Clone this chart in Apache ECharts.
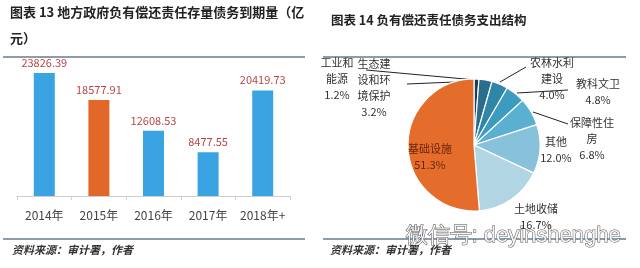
<!DOCTYPE html>
<html><head><meta charset="utf-8">
<script src="https://cdn.jsdelivr.net/npm/echarts@6/dist/echarts.min.js"></script>
<style>html,body{margin:0;padding:0;background:#fff}#c{width:640px;height:268px}</style>
</head><body><div id="c"></div>
<script>
var barCategories = ['2014年', '2015年', '2016年', '2017年', '2018年+'];
var barValues = [23826.39, 18577.91, 12608.53, 8477.55, 20419.73];
var pieNames = ['工业和\n能源', '生态建\n设和环\n境保护', '农林水利\n建设', '教科文卫', '保障性住\n房', '其他', '土地收储', '基础设施'];
var pieValues = [1.2, 3.2, 4.0, 4.8, 6.8, 12.0, 16.7, 51.3];

var barColors = ['#3aa4e2', '#e2682a', '#3aa4e2', '#3aa4e2', '#3aa4e2'];
var pieColors = ['#1d3f5c', '#2a6d8c', '#2f86a8', '#3c9cc0', '#5ab0d0', '#88c1da', '#b2d5e4', '#e56d2b'];
// label layout (text centre and leader line) per slice
var pieLabelPos = [
  {x: 337, y: 79, line: [[366, 70], [476, 80]]},
  {x: 374, y: 88, line: [[407, 84], [478, 81]]},
  {x: 552, y: 79, line: [[500, 82], [526, 67]]},
  {x: 598, y: 92, line: [[517, 93], [568, 90]]},
  {x: 592, y: 139, line: [[533, 112], [568, 124]]},
  {x: 556, y: 150, line: null},
  {x: 536, y: 217, line: null},
  {x: 430, y: 157, line: null}
];

var FONT = '"Noto Sans CJK SC", "Noto Sans", sans-serif';
var chart = echarts.init(document.getElementById('c'), null, {renderer: 'canvas'});

var pieData = pieValues.map(function (v, i) {
  return {
    name: pieNames[i], value: v,
    itemStyle: {color: pieColors[i]},
    label: {color: i === 7 ? '#6b2410' : '#333'}
  };
});

var option = {
  animation: false,
  textStyle: {fontFamily: FONT},
  grid: {left: 17, right: 350, top: 41, bottom: 72},
  xAxis: {
    type: 'category', data: barCategories,
    axisLine: {lineStyle: {color: '#cfcfcf'}},
    axisTick: {show: true, length: 4, lineStyle: {color: '#cfcfcf'}},
    axisLabel: {color: '#444', fontSize: 12, margin: 13, interval: 0, fontFamily: FONT}
  },
  yAxis: {type: 'value', min: 0, max: 30000, show: false, splitLine: {show: false}},
  series: [
    {
      type: 'bar', barWidth: 21,
      data: barValues.map(function (v, i) { return {value: v, itemStyle: {color: barColors[i]}}; }),
      label: {show: true, position: 'top', distance: 5, color: '#b84545', fontSize: 11,
        fontFamily: FONT, formatter: function (p) { return p.value.toFixed(2); }}
    },
    {
      type: 'pie', center: [474, 145], radius: 66, startAngle: 90, clockwise: true,
      itemStyle: {borderColor: '#fff', borderWidth: 1.2},
      data: pieData,
      label: {
        show: true, position: 'outside', fontSize: 11, lineHeight: 16, fontFamily: FONT,
        align: 'center',
        formatter: function (p) { return p.name + '\n' + p.value.toFixed(1) + '%'; }
      },
      labelLine: {show: true, lineStyle: {color: '#222', width: 1}},
      labelLayout: function (params) {
        var lp = pieLabelPos[params.dataIndex];
        var res = {x: lp.x, y: lp.y, align: 'center', verticalAlign: 'middle'};
        if (lp.line) {
          res.labelLinePoints = [lp.line[1], lp.line[0], lp.line[0]];
        } else {
          res.labelLinePoints = [[0, 0], [0, 0], [0, 0]];
        }
        return res;
      }
    }
  ],
  graphic: [
    {type: 'text', left: 10, top: 6, style: {text: '图表 13 地方政府负有偿还责任存量债务到期量（亿', font: 'bold 13px ' + FONT, fill: '#222'}},
    {type: 'text', left: 10, top: 32, style: {text: '元）', font: 'bold 13px ' + FONT, fill: '#222'}},
    {type: 'text', left: 331, top: 14, style: {text: '图表 14 负有偿还责任债务支出结构', font: 'bold 12.5px ' + FONT, fill: '#222'}},
    {type: 'line', shape: {x1: 3, y1: 57, x2: 305, y2: 57}, style: {stroke: '#8c9cab', lineWidth: 2}},
    {type: 'line', shape: {x1: 323, y1: 57, x2: 626, y2: 57}, style: {stroke: '#8c9cab', lineWidth: 2}},
    {type: 'line', shape: {x1: 3, y1: 239, x2: 305, y2: 239}, style: {stroke: '#8c9cab', lineWidth: 2}},
    {type: 'line', shape: {x1: 323, y1: 239, x2: 626, y2: 239}, style: {stroke: '#8c9cab', lineWidth: 2}},
    {type: 'text', left: 12, top: 244, style: {text: '资料来源：审计署，作者', font: 'italic bold 11px ' + FONT, fill: '#333'}},
    {type: 'text', left: 330, top: 244, style: {text: '资料来源：审计署，作者', font: 'italic bold 11px ' + FONT, fill: '#333'}},
    {type: 'text', left: 405, top: 224, style: {text: '微信号: deyinshenghe', font: '22px "Liberation Sans", sans-serif', fill: '#f4f4f4', stroke: '#555', lineWidth: 1}}
  ]
};
chart.setOption(option);
</script></body></html>
